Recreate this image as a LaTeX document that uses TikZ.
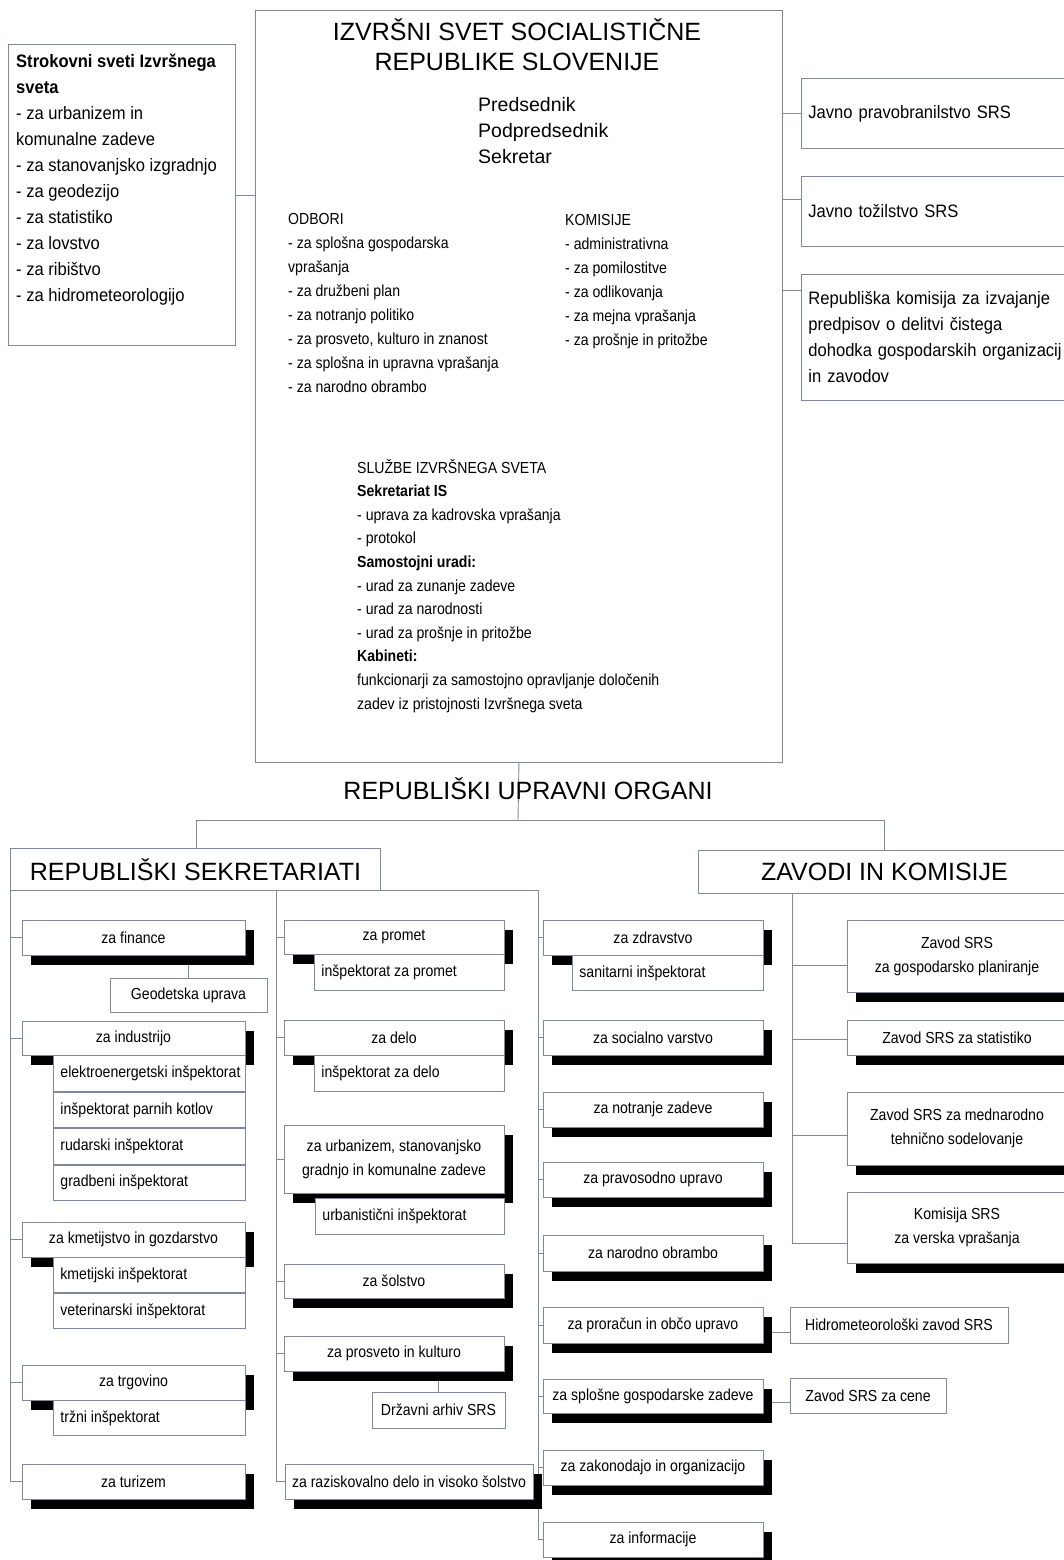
\documentclass[tikz,border=0pt]{standalone}
\usepackage{fontspec}
\setmainfont{Liberation Sans}
\newfontfamily\cfs[FakeStretch=0.88]{Liberation Sans}
\newfontfamily\cfm[FakeStretch=0.92]{Liberation Sans}
\usetikzlibrary{shadows,calc}
\pgfdeclarelayer{bg}
\pgfsetlayers{bg,main}
\definecolor{lc}{RGB}{130,136,155}
\newcommand{\fsm}{\cfs\fontsize{16}{24}\selectfont}
\newcommand{\fsl}{\cfs\fontsize{16}{23.6}\selectfont}
\newcommand{\fmd}{\cfm\fontsize{18}{26}\selectfont}
\newcommand{\fbig}{\fontsize{25}{30}\selectfont}
\newcommand{\fpr}{\fontsize{19.5}{26}\selectfont}
\newcommand{\myl}[2]{\makebox[#1][l]{#2}}
\newcommand{\myp}[2]{\parbox[t]{#1}{\raggedright #2}}
\tikzset{
 ln/.style={draw=lc, line width=0.9pt},
 bx/.style={draw=lc, line width=0.9pt, fill=white, inner sep=0pt, font=\fsm, align=center, text=black},
 sz/.style 2 args={minimum width=#1, minimum height=#2},
 mb/.style={bx, drop shadow={shadow xshift=9pt, shadow yshift=-10pt, fill=black, opacity=1}},
 sb/.style={bx, anchor=north west},
 tx/.style={inner sep=0pt, anchor=base west, text=black},
}
\begin{document}
\begin{tikzpicture}[x=1pt, y=-1pt]
\useasboundingbox (0,0) rectangle (1064,1560);
\begin{pgfonlayer}{bg}
\fill[white] (0,0) rectangle (1064,1560);
\end{pgfonlayer}

% ---------- top part ----------
\node[bx, sz={527}{752}, anchor=north west] (main) at (255,10) {};
\node[bx, sz={227}{301}, anchor=north west] (lb) at (8,44) {};
\node[tx, font=\fmd] (lbt) at (16,68) {\myp{220pt}{\textbf{Strokovni sveti Izvršnega}\\\textbf{sveta}\\- za urbanizem in\\komunalne zadeve\\- za stanovanjsko izgradnjo\\- za geodezijo\\- za statistiko\\- za lovstvo\\- za ribištvo\\- za hidrometeorologijo}};

\node[inner sep=0pt, anchor=base, font=\fbig, text=black] (ttl) at (517,41) {\parbox[t]{520pt}{\centering IZVRŠNI SVET SOCIALISTIČNE\\REPUBLIKE SLOVENIJE}};
\node[tx, font=\fpr] (pred) at (478,112) {\myp{200pt}{Predsednik\\Podpredsednik\\Sekretar}};
\node[tx, font=\fsm] (odb) at (288,224) {\myp{260pt}{ODBORI\\- za splošna gospodarska\\vprašanja\\- za družbeni plan\\- za notranjo politiko\\- za prosveto, kulturo in znanost\\- za splošna in upravna vprašanja\\- za narodno obrambo}};
\node[tx, font=\fsm] (kom) at (565,225) {\myp{200pt}{KOMISIJE\\- administrativna\\- za pomilostitve\\- za odlikovanja\\- za mejna vprašanja\\- za prošnje in pritožbe}};
\node[tx, font=\fsl] (slu) at (357,473) {\myp{340pt}{SLUŽBE IZVRŠNEGA SVETA\\\textbf{Sekretariat IS}\\- uprava za kadrovska vprašanja\\- protokol\\\textbf{Samostojni uradi:}\\- urad za zunanje zadeve\\- urad za narodnosti\\- urad za prošnje in pritožbe\\\textbf{Kabineti:}\\funkcionarji za samostojno opravljanje določenih\\zadev iz pristojnosti Izvršnega sveta}};

\node[bx, font=\fmd, anchor=north west, sz={270}{70}, align=left, text width=256pt, inner xsep=7pt] (rb1) at (801,78) {Javno pravobranilstvo SRS};
\node[bx, font=\fmd, anchor=north west, sz={270}{70}, align=left, text width=256pt, inner xsep=7pt] (rb2) at (801,176) {Javno tožilstvo SRS};
\node[bx, font=\fmd, anchor=north west, sz={270}{126}, align=left, text width=256pt, inner xsep=7pt] (rb3) at (801,274) {Republiška komisija za izvajanje\\predpisov o delitvi čistega\\dohodka gospodarskih organizacij\\in zavodov};

% ---------- middle ----------
\node[inner sep=0pt, anchor=base, font=\fbig, text=black] (ruo) at (528,799) {REPUBLIŠKI UPRAVNI ORGANI};
\node[bx, font=\fbig, sz={370}{42}, anchor=north west] (rs) at (10,848) {REPUBLIŠKI SEKRETARIATI};
\node[bx, font=\fbig, sz={372}{43}, anchor=north west] (zk) at (698,850) {ZAVODI IN KOMISIJE};
\coordinate (hub) at (518,820);
\coordinate (hl) at (196,820);
\coordinate (hr) at (884,820);
\coordinate (v2) at (276,890);
\coordinate (v3) at (538,890);
\coordinate (v4) at (792,893);

% ---------- column 1 ----------
\node[mb, sz={223}{35}] (fin) at (133.5,937.5) {za finance};
\node[bx, sz={157}{34}] (geo) at (188.5,995) {Geodetska uprava};
\node[mb, sz={223}{34}] (ind) at (133.5,1038) {za industrijo};
\node[sb, sz={192}{36}] (ind1) at (53,1055) {\myl{178pt}{elektroenergetski inšpektorat}};
\node[sb, sz={192}{35}] (ind2) at (ind1.south west) {\myl{178pt}{inšpektorat parnih kotlov}};
\node[sb, sz={192}{36}] (ind3) at (ind2.south west) {\myl{178pt}{rudarski inšpektorat}};
\node[sb, sz={192}{35}] (ind4) at (ind3.south west) {\myl{178pt}{gradbeni inšpektorat}};
\node[mb, sz={223}{35}] (kme) at (133.5,1239.5) {za kmetijstvo in gozdarstvo};
\node[sb, sz={192}{35}] (kme1) at (53,1257) {\myl{178pt}{kmetijski inšpektorat}};
\node[sb, sz={192}{35}] (kme2) at (kme1.south west) {\myl{178pt}{veterinarski inšpektorat}};
\node[mb, sz={223}{35}] (trg) at (133.5,1382.5) {za trgovino};
\node[sb, sz={192}{35}] (trg1) at (53,1400) {\myl{178pt}{tržni inšpektorat}};
\node[mb, sz={223}{35}] (tur) at (133.5,1481.5) {za turizem};

% ---------- column 2 ----------
\node[mb, sz={220}{34}] (prom) at (394,937) {za promet};
\node[sb, sz={190}{36}] (prom1) at (314,954) {\myl{176pt}{inšpektorat za promet}};
\node[mb, sz={220}{35}] (delo) at (394,1037.5) {za delo};
\node[sb, sz={190}{36}] (delo1) at (314,1055) {\myl{176pt}{inšpektorat za delo}};
\node[mb, sz={220}{68}] (urb) at (394,1159) {za urbanizem, stanovanjsko\\gradnjo in komunalne zadeve};
\node[sb, sz={189}{36}] (urb1) at (315,1198) {\myl{175pt}{urbanistični inšpektorat}};
\node[mb, sz={220}{34}] (sol) at (394,1281) {za šolstvo};
\node[mb, sz={220}{35}] (pros) at (394,1353.5) {za prosveto in kulturo};
\node[bx, sz={133}{36}] (arh) at (438.5,1410) {Državni arhiv SRS};
\node[mb, sz={248}{35}] (raz) at (409,1481.5) {za raziskovalno delo in visoko šolstvo};

% ---------- column 3 ----------
\node[mb, sz={220}{35}] (zdr) at (653,937.5) {za zdravstvo};
\node[sb, sz={191}{35}] (zdr1) at (572,955) {\myl{177pt}{sanitarni inšpektorat}};
\node[mb, sz={220}{35}] (soc) at (653,1037.5) {za socialno varstvo};
\node[mb, sz={220}{35}] (ntr) at (653,1109.5) {za notranje zadeve};
\node[mb, sz={220}{35}] (prav) at (653,1179.5) {za pravosodno upravo};
\node[mb, sz={220}{36}] (nar) at (653,1253) {za narodno obrambo};
\node[mb, sz={220}{36}] (pror) at (653,1325) {za proračun in občo upravo};
\node[mb, sz={220}{34}] (spl) at (653,1396) {za splošne gospodarske zadeve};
\node[mb, sz={220}{35}] (zak) at (653,1467.5) {za zakonodajo in organizacijo};
\node[mb, sz={220}{35}] (inf) at (653,1539.5) {za informacije};
\node[bx, sz={218}{36}] (hid) at (899,1325) {Hidrometeorološki zavod SRS};
\node[bx, sz={156}{35}] (cen) at (868,1395.5) {Zavod SRS za cene};

% ---------- right column ----------
\node[mb, sz={220}{72}] (z1) at (957,956) {Zavod SRS\\za gospodarsko planiranje};
\node[mb, sz={220}{35}] (z2) at (957,1037.5) {Zavod SRS za statistiko};
\node[mb, sz={220}{73}] (z3) at (957,1128.5) {Zavod SRS za mednarodno\\tehnično sodelovanje};
\node[mb, sz={220}{71}] (z4) at (957,1227.5) {Komisija SRS\\za verska vprašanja};

% ---------- connectors ----------
\begin{pgfonlayer}{bg}
\coordinate (t2) at ($(rb2.west)+(0,-12)$);
\coordinate (t3) at ($(rb3.west)+(0,-47)$);
\draw[ln] (lb.east) -- (lb.east -| main.west);
\draw[ln] (rb1.west) -- (rb1.west -| main.east);
\draw[ln] (t2) -- (t2 -| main.east);
\draw[ln] (t3) -- (t3 -| main.east);
\draw[ln] (main.south) -- (hub);
\draw[ln] (hl) -- (hr);
\draw[ln] (hl) -- (hl |- rs.north);
\draw[ln] (hr) -- (hr |- zk.north);
\draw[ln] (rs.south west) -- (rs.south west |- tur.west) -- (tur.west);
\foreach \n in {fin,ind,kme,trg} \draw[ln] (\n.west) -- (\n.west -| rs.south west);
\draw[ln] (v2) -- (v3);
\draw[ln] (v2) -- (v2 |- raz.west) -- (raz.west);
\foreach \n in {prom,delo,urb,sol,pros} \draw[ln] (\n.west) -- (\n.west -| v2);
\draw[ln] (v3) -- (v3 |- inf.west) -- (inf.west);
\foreach \n in {zdr,soc,ntr,prav,nar,pror,spl,zak} \draw[ln] (\n.west) -- (\n.west -| v3);
\coordinate (zc1) at ($(z1.west)+(0,9)$);
\coordinate (zc2) at ($(z2.west)+(0,2)$);
\coordinate (zc3) at ($(z3.west)+(0,7)$);
\coordinate (zc4) at ($(z4.west)+(0,16)$);
\draw[ln] (v4) -- (v4 |- zc4) -- (zc4);
\foreach \n in {zc1,zc2,zc3} \draw[ln] (\n) -- (\n -| v4);
\draw[ln] (geo.north) -- (geo.north |- fin.south);
\draw[ln] (arh.north) -- (arh.north |- pros.south);
\coordinate (hidc) at ($(hid.west)+(0,7)$);
\coordinate (cenc) at ($(cen.west)+(0,7)$);
\draw[ln] (hidc) -- (hidc -| pror.east);
\draw[ln] (cenc) -- (cenc -| spl.east);
\end{pgfonlayer}
\end{tikzpicture}
\end{document}
